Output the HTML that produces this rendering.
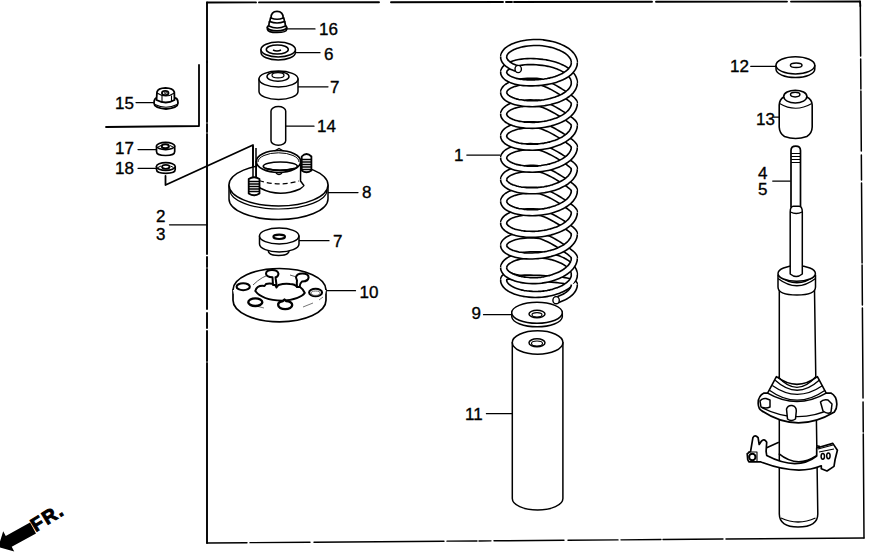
<!DOCTYPE html>
<html><head><meta charset="utf-8"><style>
html,body{margin:0;padding:0;background:#fff;}
svg{display:block;}
text{font-family:"Liberation Sans",sans-serif;fill:#000;}
</style></head><body>
<svg width="870" height="554" viewBox="0 0 870 554">
<g fill="none" stroke="#000" stroke-width="1.8" stroke-linecap="round" stroke-linejoin="round">
<!-- frame -->
<path d="M207,62 L207,2.5 M860,1.5 L860.3,6" stroke-width="1.9"/>
<path d="M207,2.5 L860,1.5" stroke-width="1.9" stroke-dasharray="49 3 120 12 112 3 6 2 138 4 131 4 200"/>
<path d="M860.3,6 L864,538" stroke-width="1.5" stroke-dasharray="50 3 30 2 60 4 25 3 80 2 40 3 90 4 30 2 200"/>
<path d="M207,62 L207,543" stroke-width="1.9" stroke-dasharray="60 2 8 2 120 3 10 2 40 4 15 3 30 2 250"/>
<path d="M207,543 L864,538" stroke-width="1.4" stroke-dasharray="40 3 60 4 130 3 30 2 12 3 70 4 50 3 40 2 60 3 200"/>
<!-- inner bracket -->
<path d="M199,65 L199,126 L106,127"/>
<!-- 17/18 bracket -->
<path d="M165.5,176 L165.5,185 L253,145 L253,177"/>
<!-- leaders -->
<path stroke-width="1.25" d="M136,102.5 L155,102.5 M138,149.5 L157,149.5 M138,168.3 L157,168.3 M169.5,224.8 L207,224.8
 M287,28.9 L315,28.9 M296,52.7 L320,52.7 M298,86.8 L328,86.8 M286,126.2 L314,126.2 M328,192.5 L358,192.5
 M299,240.7 L329,240.7 M327,290.7 L355.5,290.7
 M466.8,155.1 L500,155.1 M483.5,314.7 L512,314.7 M486.4,413.7 L511.7,413.7
 M750.7,66.3 L776,66.3 M774,117.2 L778.7,117.2 M772.7,181 L790.3,181"/>
</g>
<g font-size="17" stroke="#000" stroke-width="0.35">
<text x="115" y="108.5">15</text>
<text x="115" y="154">17</text>
<text x="115" y="173.5">18</text>
<text x="156" y="221.5">2</text>
<text x="156" y="240">3</text>
<text x="319" y="35">16</text>
<text x="324" y="59.6">6</text>
<text x="330" y="93.3">7</text>
<text x="317" y="131.5">14</text>
<text x="362" y="198.3">8</text>
<text x="333" y="247">7</text>
<text x="359.5" y="297.5">10</text>
<text x="454" y="160.5">1</text>
<text x="471.5" y="319.3">9</text>
<text x="465" y="420">11</text>
<text x="730" y="72">12</text>
<text x="756" y="124.5">13</text>
<text x="758" y="179">4</text>
<text x="758" y="195.3">5</text>
</g>

<g fill="#fff" stroke="#000" stroke-width="1.5" stroke-linejoin="round">
<!-- 15 nut -->
<path d="M154,103 Q154,97 158.5,98 L173,98 Q178,97 178,103 Q178,108 166,109 Q154,108 154,103Z" stroke-width="1.8"/>
<path d="M155,104.5 Q166,110 177,104.5" fill="none" stroke-width="1.2"/>
<path d="M156.5,100 L157,92 Q158,88 165.5,87.8 Q173,88 174.3,92 L174.5,100 Q166,105 156.5,100Z" stroke-width="1.8"/>
<path d="M162,96 L162,102.5 M171.5,95.5 L171.5,102" fill="none" stroke-width="1.1"/>
<path d="M157,93 Q166,99 174.3,93" fill="none" stroke-width="1.1"/>
<ellipse cx="165.2" cy="93" rx="3.3" ry="2.2" stroke-width="1.8"/>
<ellipse cx="165.4" cy="92.8" rx="1.2" ry="0.7" fill="none" stroke-width="0.9"/>

<!-- 17 -->
<path d="M156.5,146 L156.5,151.5 Q156.5,155.5 165.6,155.5 Q174.7,155.5 174.7,151.5 L174.7,146Z" stroke-width="1.7"/>
<ellipse cx="165.6" cy="146" rx="9.1" ry="3.6" stroke-width="1.6"/>
<ellipse cx="165.3" cy="146.2" rx="3.6" ry="2" stroke-width="2"/>
<path d="M158,147 L161,145.5 M170,145.5 L173,147" fill="none" stroke-width="1"/>
<!-- 18 -->
<path d="M156.5,166.5 L156.5,169.5 Q156.5,173.3 165.8,173.3 Q175.2,173.3 175.2,169.5 L175.2,166.5Z" stroke-width="1.7"/>
<ellipse cx="165.8" cy="166.5" rx="9.4" ry="3.9" stroke-width="1.6"/>
<ellipse cx="165.8" cy="166.8" rx="3.8" ry="2" stroke-width="1.8"/>
<path d="M158,167.5 L161,166 M170.5,166 L173.5,167.5" fill="none" stroke-width="1"/>

<!-- 16 -->
<path d="M267.3,27.5 L267.5,29.5 Q268,32.5 277,32.5 Q286.3,32.5 286.7,29.5 L286.7,27.5Z" stroke-width="1.7"/>
<ellipse cx="277" cy="27.3" rx="9.6" ry="3.6" stroke-width="1.7"/>
<path d="M268.8,26 L269.3,21.5 L284.8,21.5 L285.5,26 Q277,30 268.8,26Z" stroke-width="1.7"/>
<path d="M269.8,21.5 L270.5,17.8 L283.8,17.8 L284.5,21.5 Q277,24.5 269.8,21.5Z" stroke-width="1.7"/>
<path d="M271,18 Q271,11.3 277,11.3 Q283.2,11.3 283.2,18 Q277,20.5 271,18Z" stroke-width="1.7"/>

<!-- 6 washer -->
<path d="M261,49.5 L261,52.5 A17.2,7.5 0 0 0 295.4,52.5 L295.4,49.5Z"/>
<ellipse cx="278.2" cy="49.5" rx="17.2" ry="7.5"/>
<ellipse cx="277.3" cy="49.5" rx="11" ry="4.6" fill="none"/>
<path d="M273,50 Q277,52 281,50" fill="none"/>

<!-- 7 upper -->
<path d="M259,79 L259,91.5 A19.5,8 0 0 0 298,91.5 L298,79Z"/>
<ellipse cx="278.5" cy="79" rx="19.5" ry="8"/>
<ellipse cx="278" cy="76.5" rx="11" ry="4.8"/>
<ellipse cx="278" cy="75.3" rx="6" ry="2.6" fill="none" stroke-width="1.2"/>

<!-- 14 -->
<rect x="271" y="106.5" width="14.7" height="38.7" rx="7.3" ry="4.5"/>

<!-- 8 base -->
<path d="M229,185 L229,199 A49.5,20.5 0 0 0 328,199 L328,185Z"/>
<ellipse cx="278.5" cy="185" rx="49.5" ry="21"/>
<path d="M230,190 A48.5,19 0 0 0 327,190" fill="none" stroke-width="1.2"/>
<!-- hub -->
<path d="M256.2,161.5 L256.2,181 Q257,185 260,188 Q279,198 300,189 Q304,186 303.9,185.5 L300.5,181 L300.7,161.5Z"/>
<ellipse cx="278.5" cy="161.5" rx="22.2" ry="11" stroke-width="1.7"/>
<path d="M258,162 A20.5,9.2 0 0 1 299,162" fill="none" stroke-width="1"/>
<ellipse cx="280.3" cy="166.2" rx="17" ry="4.2" stroke-width="1.7"/>
<path d="M266,168.5 Q280,172 294,168.5" fill="none" stroke-width="1.3"/>
<path d="M276,173 Q279,176 282,173" fill="none" stroke-width="1.3"/>
<path d="M259,180.5 Q279,187 299,181" fill="none" stroke-dasharray="5 3" stroke-width="1.3"/>
<path d="M274.5,151 L279,148.5 L283.5,151" fill="none" stroke-width="1.4"/>
<!-- studs -->
<path d="M253,146 L253,177 M256,148 L256,177" fill="none" stroke-width="1.5"/>
<path d="M248.7,179 L248.7,193.5 Q254,197 259.5,193.5 L259.5,179 Q254,175.5 248.7,179Z" stroke-width="1.8"/>
<path d="M249,181.5 L259,181.5 M249,184 L259,184 M249,186.5 L259,186.5 M249,189 L259,189 M249,191.5 L259,191.5" stroke-width="1.3" fill="none"/>
<path d="M301.7,156.5 L301.7,170.5 Q306.5,174 311.4,170.5 L311.4,156.5 Q306.5,151.5 301.7,156.5Z" stroke-width="1.8"/>
<path d="M302,159.5 L311,159.5 M302,162 L311,162 M302,164.5 L311,164.5 M302,167 L311,167 M302,169.5 L311,169.5" stroke-width="1.3" fill="none"/>

<!-- 7 lower -->
<path d="M268.2,248 L268.5,252 A10.3,4.2 0 0 0 288.8,252 L289,248Z"/>
<path d="M259.5,236 L259.5,244 A19.7,8 0 0 0 299,244 L299,236Z"/>
<ellipse cx="279.2" cy="236" rx="19.7" ry="8"/>
<ellipse cx="279.2" cy="236.8" rx="5.8" ry="2.2" fill="none" stroke-width="2.1"/>

<!-- 10 -->
<path d="M233,290 L233,300.3 A46.5,21.5 0 0 0 326,300.3 L326,290Z" stroke-width="1.7"/>
<ellipse cx="279.5" cy="290" rx="46.5" ry="21.5" stroke="none"/>
<path d="M233,290 A46.5,21.5 0 0 1 326,290" fill="none" stroke-width="1.7"/>
<path d="M256,306 L264,308 M303,307 L313,303 M319,300 L323,297" fill="none" stroke-width="0.9" stroke="#666"/>
<path d="M253,285 Q262,276 272,274 M290,275 Q300,277 306,282" fill="none" stroke-width="0.9" stroke="#444"/>
<path d="M255.3,291 Q257,285 264.5,286 L266,284 Q270,283 275,284.5 L276.5,287.5 L278.5,285 Q285,283 290,284 Q295,284 297,287 L299.5,286.5 Q303,289 304.8,293 Q300,299.5 282,300.8 Q262,300 255.3,291Z" stroke-width="2"/>
<ellipse cx="243.2" cy="286.7" rx="6.6" ry="3.5" stroke-width="2.1"/>
<path d="M266,273.8 Q266,270 272,270 Q278,270 278.5,273.8 Q278,277 275.5,277.2 L276.5,285 L273,285 L272.5,277.2 Q266.5,277 266,273.8Z" stroke-width="2"/>
<path d="M296,277.5 Q296.5,273.5 302.4,273.5 Q308.6,273.5 308.6,277.5 Q308,281.5 302,281.5 Q300,283 299.5,287 L297,287 Q296.5,283 297,280.5Z" stroke-width="2"/>
<ellipse cx="315.6" cy="292.5" rx="6.5" ry="3.7" stroke-width="2"/>
<ellipse cx="315.6" cy="293.2" rx="4.5" ry="2.2" fill="none" stroke-width="1" stroke="#666"/>
<ellipse cx="255.3" cy="302.2" rx="7" ry="3.8" stroke-width="2.4"/>
<path d="M278.2,305.1 A7,4 0 0 0 292.2,305.1 A7,4 0 0 0 286,301 L284.5,299.5 L283,301 A7,4 0 0 0 278.2,305.1Z" stroke-width="2.4"/>

<!-- 9 washer -->
<path d="M511.8,313 L511.8,317 A25.3,10.5 0 0 0 562.3,317 L562.3,313Z"/>
<ellipse cx="537" cy="312.8" rx="25.3" ry="10.5"/>
<ellipse cx="537" cy="314" rx="8" ry="3.8"/>
<ellipse cx="537" cy="314.8" rx="5" ry="2.2" fill="none" stroke-width="1.1"/>

<!-- 11 -->
<path d="M512.3,342.5 L512.3,498.5 A25.3,11.5 0 0 0 562.9,498.5 L562.9,342.5Z"/>
<ellipse cx="537.6" cy="342.5" rx="25.3" ry="11.7"/>
<ellipse cx="537" cy="342.8" rx="8" ry="4"/>
<ellipse cx="537" cy="343.5" rx="5.5" ry="2.5" fill="none" stroke-width="1.1"/>

<!-- 12 washer -->
<path d="M776,65.5 L776,69 A19.4,8.6 0 0 0 814.8,69 L814.8,65.5Z"/>
<ellipse cx="795.4" cy="65.3" rx="19.4" ry="8.6"/>
<ellipse cx="796.2" cy="65.3" rx="5.8" ry="2.3"/>

<!-- 13 bump stop -->
<path d="M783.7,97 Q779.5,99.5 779.2,105 L779.2,127 Q779.5,133.5 784.5,136.5 Q795.5,140.5 806.8,136.5 Q812,133.5 812.2,127 L812.2,105 Q812,99.5 806.8,97Z" stroke-width="1.6"/>
<path d="M779.6,103.5 Q795.5,113 811.8,103.5" fill="none" stroke-width="1.1"/>
<ellipse cx="795.3" cy="96.6" rx="11.6" ry="6.4" stroke-width="1.6"/>
<ellipse cx="795.2" cy="94.6" rx="4.7" ry="2.3" stroke-width="1.5"/>

<!-- rod -->
<path d="M791,207.5 L791,150.5 Q791,146.2 795.7,146.2 Q800.5,146.2 800.5,150.5 L800.5,207.5" stroke-width="1.7"/>
<path d="M791.2,153.5 L800.3,153.5 M791.2,156.5 L800.3,156.5 M791.2,159.5 L800.3,159.5 M791.2,162.5 L800.3,162.5" stroke-width="1.1" fill="none"/>
<!-- strut body -->
<path d="M779.3,290 L779.3,514 Q779.5,527 798,527 Q817.8,527 817.8,514 L814.5,290Z"/>
<path d="M781,518 Q798,526 815.5,518" fill="none" stroke-width="1.3"/>
<!-- cap -->
<path d="M778,275 L778,287 Q778,295 797,295 Q815.5,295 815.5,287 L815.5,275Z"/>
<path d="M778,275.5 Q797,290 815.5,275.5 M778,278.5 Q797,293 815.5,278.5" fill="none" stroke-width="1.4"/>
<ellipse cx="796.7" cy="273.5" rx="18.7" ry="7.8"/>
<path d="M790.2,212 L790.2,274 Q796.2,279 802.3,274 L802.3,212 Q802.3,206.5 799,206.3 L793.5,206.3 Q790.2,206.5 790.2,212Z"/>
<path d="M790.4,212 Q796.2,215 802.1,212" fill="none" stroke-width="1.3"/>
<!-- spring seat -->
<path d="M764.1,393.1 Q758,396 758.2,403.7 Q758.5,409 761.7,410.7 Q797,434.3 834.4,411.9 Q837,409 836.8,403.7 Q836.5,396 830.9,393.1Z" stroke-width="1.7"/>
<path d="M761.7,407.5 Q797,425.4 832.1,408.4" fill="none" stroke-width="1.3"/>
<path d="M776.4,376.7 L767.6,393.1 Q797,410 826.2,393.1 L817.4,376.7 Q797,392 776.4,376.7Z" stroke-width="1.6"/>
<path d="M778.1,376.7 Q797,397.9 815.7,376.7 M775.2,380.2 Q797,400.2 819.2,380.2 M772.3,385.5 Q797,403.1 822.7,385.5 M769.4,390.2 Q797,410.2 825.1,390.2" fill="none" stroke-width="1.3"/>
<path d="M760,401 Q762,398 766,398.5 L770,400 L770,407 Q766,409 761,407Z" stroke-width="1.5"/>
<path d="M786.5,409 Q788,405 792,405.5 Q796.5,406.5 796.3,411 L795.5,419 Q791,422 787.5,419Z" stroke-width="1.5"/>
<path d="M820.5,402 Q823,399 828,400 L832,404 L831,412 Q828,415 823,411Z" stroke-width="1.5"/>
<!-- bracket -->
<path d="M766.1,448 L778.8,442.2 M816.7,445.7 L820,446.5" fill="none" stroke-width="1.5"/>
<path d="M778.8,453.7 Q797,468.6 816.1,456" fill="none" stroke-width="1.5"/>
<path d="M747.7,459.5 L747.2,453.7 L750.6,451.4 L752.9,437.6 Q755,434 758.1,437.6 L759.2,444.5 L761.5,441.1 Q764,438 766.7,442.2 L766.1,451.4 L766.7,455.5 Q797,471.3 816.7,456 L816.7,448 L832.8,443.4 L837.4,450.3 L835.1,459.5 L834,466.4 L827,471 L821.3,468.7 L821.3,465.8 Q797.2,476 760.4,461.8 L748.9,461.8Z" stroke-width="1.7"/>
<path d="M748,452 L757,452 L757,461" fill="none" stroke-width="1.1"/>
<circle cx="752.3" cy="457" r="3.2" stroke-width="2"/>
<path d="M818,449 L833,445 M819,452 L834,449" fill="none" stroke-width="1.1"/>
<ellipse cx="822.8" cy="456.3" rx="1.7" ry="2.9" stroke-width="1.5"/>
<ellipse cx="828.4" cy="455.8" rx="1.7" ry="2.9" stroke-width="1.5"/>
</g>

<!-- FR arrow -->
<g transform="translate(-1.8,547.1) rotate(-28.7)">
<path d="M0,0 L12,-11.5 L12,-6.2 L39.7,-6.2 L39.7,6.2 L12,6.2 L12,11.5Z" fill="#000"/>
<text x="40" y="5" font-size="19" font-weight="bold" fill="#000" stroke="#000" stroke-width="1" letter-spacing="1.6" transform="rotate(-3 40 5)">FR.</text>
</g>
<g stroke-linecap="butt" stroke-linejoin="round"><path d="M503.7,56.7 L503.8,55.3 L504.3,54.0 L505.0,52.8 L506.0,51.5 L507.2,50.3 L508.7,49.2 L510.4,48.1 L512.3,47.1 L514.4,46.2 L516.8,45.3 L519.2,44.6 L521.9,43.9 L524.6,43.4 L527.5,43.0 L530.4,42.7 L533.5,42.5 L536.5,42.5 L539.6,42.5 L542.7,42.8 L545.7,43.3 L548.7,43.8 L551.7,44.4 L554.5,45.2 L557.2,46.1 L559.8,47.1 L562.2,48.2 L564.4,49.4 L566.5,50.6 L568.3,52.0 L569.9,53.4 L571.3,54.9 L572.4,56.4 L573.3,58.0 L573.9,59.6 L574.3,61.2 L574.3,62.8" stroke="#000" stroke-width="7.6" fill="none"/><path d="M504.1,59.3 L503.7,58.0 L503.7,56.7 L503.8,55.3 L504.3,54.0 L505.0,52.8 L506.0,51.5 L507.2,50.3 L508.7,49.2 L510.4,48.1 L512.3,47.1 L514.4,46.2 L516.8,45.3 L519.2,44.6 L521.9,43.9 L524.6,43.4 L527.5,43.0 L530.4,42.7 L533.5,42.5 L536.5,42.5 L539.6,42.5 L542.7,42.8 L545.7,43.3 L548.7,43.8 L551.7,44.4 L554.5,45.2 L557.2,46.1 L559.8,47.1 L562.2,48.2 L564.4,49.4 L566.5,50.6 L568.3,52.0 L569.9,53.4 L571.3,54.9 L572.4,56.4 L573.3,58.0 L573.9,59.6 L574.3,61.2 L574.3,62.8 L574.2,64.5 L573.7,66.1" stroke="#fff" stroke-width="4.4" fill="none"/><path d="M503.7,72.0 L503.8,70.9 L504.3,69.9 L505.0,68.8 L506.0,67.8 L507.2,66.9 L508.7,65.9 L510.4,65.1 L512.3,64.3 L514.4,63.6 L516.8,63.0 L519.2,62.5 L521.9,62.1 L524.6,61.8 L527.5,61.6 L530.4,61.5 L533.5,61.6 L536.5,61.8 L539.6,62.1 L542.7,62.4 L545.7,62.8 L548.7,63.4 L551.7,64.1 L554.5,64.9 L557.2,65.8 L559.8,66.9 L562.2,68.0 L564.4,69.2 L566.5,70.5 L568.3,71.9 L569.9,73.3 L571.3,74.9 L572.4,76.4 L573.3,78.0 L573.9,79.7 L574.3,81.3 L574.3,83.0" stroke="#000" stroke-width="7.6" fill="none"/><path d="M504.1,74.2 L503.7,73.1 L503.7,72.0 L503.8,70.9 L504.3,69.9 L505.0,68.8 L506.0,67.8 L507.2,66.9 L508.7,65.9 L510.4,65.1 L512.3,64.3 L514.4,63.6 L516.8,63.0 L519.2,62.5 L521.9,62.1 L524.6,61.8 L527.5,61.6 L530.4,61.5 L533.5,61.6 L536.5,61.8 L539.6,62.1 L542.7,62.4 L545.7,62.8 L548.7,63.4 L551.7,64.1 L554.5,64.9 L557.2,65.8 L559.8,66.9 L562.2,68.0 L564.4,69.2 L566.5,70.5 L568.3,71.9 L569.9,73.3 L571.3,74.9 L572.4,76.4 L573.3,78.0 L573.9,79.7 L574.3,81.3 L574.3,83.0 L574.2,84.6 L573.7,86.3" stroke="#fff" stroke-width="4.4" fill="none"/><path d="M503.7,92.2 L503.8,91.1 L504.3,90.0 L505.0,88.9 L506.0,87.8 L507.2,86.8 L508.7,85.9 L510.4,85.0 L512.3,84.2 L514.4,83.5 L516.8,82.8 L519.2,82.3 L521.9,81.8 L524.6,81.5 L527.5,81.3 L530.4,81.2 L533.5,81.2 L536.5,81.3 L539.6,81.7 L542.7,82.6 L545.7,83.7 L548.7,85.1 L551.7,86.5 L554.5,88.0 L557.2,89.6 L559.8,91.1 L562.2,92.6 L564.4,94.1 L566.5,95.5 L568.3,96.8 L569.9,97.9 L571.3,99.0 L572.4,100.0 L573.3,101.0 L573.9,101.8 L574.3,102.6 L574.3,103.6" stroke="#000" stroke-width="7.6" fill="none"/><path d="M504.1,94.4 L503.7,93.3 L503.7,92.2 L503.8,91.1 L504.3,90.0 L505.0,88.9 L506.0,87.8 L507.2,86.8 L508.7,85.9 L510.4,85.0 L512.3,84.2 L514.4,83.5 L516.8,82.8 L519.2,82.3 L521.9,81.8 L524.6,81.5 L527.5,81.3 L530.4,81.2 L533.5,81.2 L536.5,81.3 L539.6,81.7 L542.7,82.6 L545.7,83.7 L548.7,85.1 L551.7,86.5 L554.5,88.0 L557.2,89.6 L559.8,91.1 L562.2,92.6 L564.4,94.1 L566.5,95.5 L568.3,96.8 L569.9,97.9 L571.3,99.0 L572.4,100.0 L573.3,101.0 L573.9,101.8 L574.3,102.6 L574.3,103.6 L574.2,105.3 L573.7,107.0" stroke="#fff" stroke-width="4.4" fill="none"/><path d="M503.7,113.9 L503.8,112.8 L504.3,111.7 L505.0,110.6 L506.0,109.6 L507.2,108.6 L508.7,107.6 L510.4,106.7 L512.3,105.9 L514.4,105.2 L516.8,104.6 L519.2,104.0 L521.9,103.6 L524.6,103.3 L527.5,103.0 L530.4,102.9 L533.5,103.0 L536.5,103.1 L539.6,103.4 L542.7,104.3 L545.7,105.5 L548.7,106.8 L551.7,108.3 L554.5,109.8 L557.2,111.3 L559.8,112.9 L562.2,114.4 L564.4,115.9 L566.5,117.2 L568.3,118.5 L569.9,119.7 L571.3,120.8 L572.4,121.8 L573.3,122.7 L573.9,123.6 L574.3,124.4 L574.3,125.4" stroke="#000" stroke-width="7.6" fill="none"/><path d="M504.1,116.2 L503.7,115.0 L503.7,113.9 L503.8,112.8 L504.3,111.7 L505.0,110.6 L506.0,109.6 L507.2,108.6 L508.7,107.6 L510.4,106.7 L512.3,105.9 L514.4,105.2 L516.8,104.6 L519.2,104.0 L521.9,103.6 L524.6,103.3 L527.5,103.0 L530.4,102.9 L533.5,103.0 L536.5,103.1 L539.6,103.4 L542.7,104.3 L545.7,105.5 L548.7,106.8 L551.7,108.3 L554.5,109.8 L557.2,111.3 L559.8,112.9 L562.2,114.4 L564.4,115.9 L566.5,117.2 L568.3,118.5 L569.9,119.7 L571.3,120.8 L572.4,121.8 L573.3,122.7 L573.9,123.6 L574.3,124.4 L574.3,125.4 L574.2,127.1 L573.7,128.8" stroke="#fff" stroke-width="4.4" fill="none"/><path d="M503.7,135.8 L503.8,134.7 L504.3,133.6 L505.0,132.5 L506.0,131.4 L507.2,130.4 L508.7,129.5 L510.4,128.6 L512.3,127.8 L514.4,127.1 L516.8,126.4 L519.2,125.9 L521.9,125.5 L524.6,125.1 L527.5,124.9 L530.4,124.8 L533.5,124.9 L536.5,125.0 L539.6,125.3 L542.7,126.2 L545.7,127.4 L548.7,128.7 L551.7,130.2 L554.5,131.7 L557.2,133.3 L559.8,134.8 L562.2,136.3 L564.4,137.8 L566.5,139.2 L568.3,140.5 L569.9,141.6 L571.3,142.7 L572.4,143.7 L573.3,144.7 L573.9,145.5 L574.3,146.4 L574.3,147.3" stroke="#000" stroke-width="7.6" fill="none"/><path d="M504.1,138.0 L503.7,136.9 L503.7,135.8 L503.8,134.7 L504.3,133.6 L505.0,132.5 L506.0,131.4 L507.2,130.4 L508.7,129.5 L510.4,128.6 L512.3,127.8 L514.4,127.1 L516.8,126.4 L519.2,125.9 L521.9,125.5 L524.6,125.1 L527.5,124.9 L530.4,124.8 L533.5,124.9 L536.5,125.0 L539.6,125.3 L542.7,126.2 L545.7,127.4 L548.7,128.7 L551.7,130.2 L554.5,131.7 L557.2,133.3 L559.8,134.8 L562.2,136.3 L564.4,137.8 L566.5,139.2 L568.3,140.5 L569.9,141.6 L571.3,142.7 L572.4,143.7 L573.3,144.7 L573.9,145.5 L574.3,146.4 L574.3,147.3 L574.2,149.1 L573.7,150.8" stroke="#fff" stroke-width="4.4" fill="none"/><path d="M503.7,157.7 L503.8,156.6 L504.3,155.4 L505.0,154.4 L506.0,153.3 L507.2,152.3 L508.7,151.4 L510.4,150.5 L512.3,149.7 L514.4,148.9 L516.8,148.3 L519.2,147.7 L521.9,147.3 L524.6,147.0 L527.5,146.7 L530.4,146.6 L533.5,146.7 L536.5,146.8 L539.6,147.1 L542.7,148.0 L545.7,149.2 L548.7,150.5 L551.7,152.0 L554.5,153.5 L557.2,155.0 L559.8,156.6 L562.2,158.1 L564.4,159.5 L566.5,160.9 L568.3,162.2 L569.9,163.4 L571.3,164.5 L572.4,165.5 L573.3,166.4 L573.9,167.2 L574.3,168.1 L574.3,169.0" stroke="#000" stroke-width="7.6" fill="none"/><path d="M504.1,159.9 L503.7,158.8 L503.7,157.7 L503.8,156.6 L504.3,155.4 L505.0,154.4 L506.0,153.3 L507.2,152.3 L508.7,151.4 L510.4,150.5 L512.3,149.7 L514.4,148.9 L516.8,148.3 L519.2,147.7 L521.9,147.3 L524.6,147.0 L527.5,146.7 L530.4,146.6 L533.5,146.7 L536.5,146.8 L539.6,147.1 L542.7,148.0 L545.7,149.2 L548.7,150.5 L551.7,152.0 L554.5,153.5 L557.2,155.0 L559.8,156.6 L562.2,158.1 L564.4,159.5 L566.5,160.9 L568.3,162.2 L569.9,163.4 L571.3,164.5 L572.4,165.5 L573.3,166.4 L573.9,167.2 L574.3,168.1 L574.3,169.0 L574.2,170.8 L573.7,172.5" stroke="#fff" stroke-width="4.4" fill="none"/><path d="M503.7,179.4 L503.8,178.2 L504.3,177.1 L505.0,176.1 L506.0,175.0 L507.2,174.0 L508.7,173.1 L510.4,172.2 L512.3,171.4 L514.4,170.6 L516.8,170.0 L519.2,169.5 L521.9,169.0 L524.6,168.7 L527.5,168.5 L530.4,168.4 L533.5,168.4 L536.5,168.5 L539.6,168.9 L542.7,169.8 L545.7,170.9 L548.7,172.3 L551.7,173.7 L554.5,175.2 L557.2,176.8 L559.8,178.4 L562.2,179.9 L564.4,181.3 L566.5,182.7 L568.3,184.0 L569.9,185.2 L571.3,186.3 L572.4,187.3 L573.3,188.2 L573.9,189.1 L574.3,189.9 L574.3,190.9" stroke="#000" stroke-width="7.6" fill="none"/><path d="M504.1,181.6 L503.7,180.5 L503.7,179.4 L503.8,178.2 L504.3,177.1 L505.0,176.1 L506.0,175.0 L507.2,174.0 L508.7,173.1 L510.4,172.2 L512.3,171.4 L514.4,170.6 L516.8,170.0 L519.2,169.5 L521.9,169.0 L524.6,168.7 L527.5,168.5 L530.4,168.4 L533.5,168.4 L536.5,168.5 L539.6,168.9 L542.7,169.8 L545.7,170.9 L548.7,172.3 L551.7,173.7 L554.5,175.2 L557.2,176.8 L559.8,178.4 L562.2,179.9 L564.4,181.3 L566.5,182.7 L568.3,184.0 L569.9,185.2 L571.3,186.3 L572.4,187.3 L573.3,188.2 L573.9,189.1 L574.3,189.9 L574.3,190.9 L574.2,192.6 L573.7,194.3" stroke="#fff" stroke-width="4.4" fill="none"/><path d="M503.7,201.2 L503.8,200.1 L504.3,199.0 L505.0,197.9 L506.0,196.8 L507.2,195.8 L508.7,194.9 L510.4,194.0 L512.3,193.2 L514.4,192.5 L516.8,191.8 L519.2,191.3 L521.9,190.8 L524.6,190.5 L527.5,190.3 L530.4,190.2 L533.5,190.2 L536.5,190.3 L539.6,190.7 L542.7,191.6 L545.7,192.7 L548.7,194.1 L551.7,195.5 L554.5,197.0 L557.2,198.6 L559.8,200.1 L562.2,201.6 L564.4,203.1 L566.5,204.5 L568.3,205.8 L569.9,206.9 L571.3,208.0 L572.4,209.0 L573.3,210.0 L573.9,210.8 L574.3,211.6 L574.3,212.6" stroke="#000" stroke-width="7.6" fill="none"/><path d="M504.1,203.4 L503.7,202.3 L503.7,201.2 L503.8,200.1 L504.3,199.0 L505.0,197.9 L506.0,196.8 L507.2,195.8 L508.7,194.9 L510.4,194.0 L512.3,193.2 L514.4,192.5 L516.8,191.8 L519.2,191.3 L521.9,190.8 L524.6,190.5 L527.5,190.3 L530.4,190.2 L533.5,190.2 L536.5,190.3 L539.6,190.7 L542.7,191.6 L545.7,192.7 L548.7,194.1 L551.7,195.5 L554.5,197.0 L557.2,198.6 L559.8,200.1 L562.2,201.6 L564.4,203.1 L566.5,204.5 L568.3,205.8 L569.9,206.9 L571.3,208.0 L572.4,209.0 L573.3,210.0 L573.9,210.8 L574.3,211.6 L574.3,212.6 L574.2,214.3 L573.7,216.0" stroke="#fff" stroke-width="4.4" fill="none"/><path d="M503.7,222.9 L503.8,221.7 L504.3,220.6 L505.0,219.5 L506.0,218.5 L507.2,217.5 L508.7,216.5 L510.4,215.6 L512.3,214.8 L514.4,214.1 L516.8,213.5 L519.2,212.9 L521.9,212.5 L524.6,212.1 L527.5,211.9 L530.4,211.8 L533.5,211.8 L536.5,212.0 L539.6,212.3 L542.7,213.2 L545.7,214.3 L548.7,215.6 L551.7,217.1 L554.5,218.6 L557.2,220.2 L559.8,221.7 L562.2,223.2 L564.4,224.7 L566.5,226.0 L568.3,227.3 L569.9,228.5 L571.3,229.6 L572.4,230.6 L573.3,231.5 L573.9,232.4 L574.3,233.2 L574.3,234.2" stroke="#000" stroke-width="7.6" fill="none"/><path d="M504.1,225.1 L503.7,224.0 L503.7,222.9 L503.8,221.7 L504.3,220.6 L505.0,219.5 L506.0,218.5 L507.2,217.5 L508.7,216.5 L510.4,215.6 L512.3,214.8 L514.4,214.1 L516.8,213.5 L519.2,212.9 L521.9,212.5 L524.6,212.1 L527.5,211.9 L530.4,211.8 L533.5,211.8 L536.5,212.0 L539.6,212.3 L542.7,213.2 L545.7,214.3 L548.7,215.6 L551.7,217.1 L554.5,218.6 L557.2,220.2 L559.8,221.7 L562.2,223.2 L564.4,224.7 L566.5,226.0 L568.3,227.3 L569.9,228.5 L571.3,229.6 L572.4,230.6 L573.3,231.5 L573.9,232.4 L574.3,233.2 L574.3,234.2 L574.2,235.9 L573.7,237.6" stroke="#fff" stroke-width="4.4" fill="none"/><path d="M503.7,245.2 L503.8,244.2 L504.3,243.1 L505.0,242.1 L506.0,241.1 L507.2,240.1 L508.7,239.2 L510.4,238.4 L512.3,237.6 L514.4,236.9 L516.8,236.3 L519.2,235.8 L521.9,235.4 L524.6,235.1 L527.5,235.0 L530.4,234.9 L533.5,235.0 L536.5,235.2 L539.6,235.5 L542.7,236.5 L545.7,237.7 L548.7,239.1 L551.7,240.5 L554.5,242.1 L557.2,243.7 L559.8,245.3 L562.2,246.9 L564.4,248.4 L566.5,249.8 L568.3,251.1 L569.9,252.4 L571.3,253.5 L572.4,254.5 L573.3,255.5 L573.9,256.4 L574.3,257.3 L574.3,258.3" stroke="#000" stroke-width="7.6" fill="none"/><path d="M504.1,247.4 L503.7,246.3 L503.7,245.2 L503.8,244.2 L504.3,243.1 L505.0,242.1 L506.0,241.1 L507.2,240.1 L508.7,239.2 L510.4,238.4 L512.3,237.6 L514.4,236.9 L516.8,236.3 L519.2,235.8 L521.9,235.4 L524.6,235.1 L527.5,235.0 L530.4,234.9 L533.5,235.0 L536.5,235.2 L539.6,235.5 L542.7,236.5 L545.7,237.7 L548.7,239.1 L551.7,240.5 L554.5,242.1 L557.2,243.7 L559.8,245.3 L562.2,246.9 L564.4,248.4 L566.5,249.8 L568.3,251.1 L569.9,252.4 L571.3,253.5 L572.4,254.5 L573.3,255.5 L573.9,256.4 L574.3,257.3 L574.3,258.3 L574.2,260.1 L573.7,261.8" stroke="#fff" stroke-width="4.4" fill="none"/><path d="M503.7,267.4 L503.8,266.2 L504.3,265.0 L505.0,263.8 L506.0,262.6 L507.2,261.5 L508.7,260.5 L510.4,259.5 L512.3,258.6 L514.4,257.7 L516.8,257.0 L519.2,256.3 L521.9,255.8 L524.6,255.3 L527.5,255.0 L530.4,254.8 L533.5,254.7 L536.5,254.7 L539.6,254.9 L542.7,255.2 L545.7,255.6 L548.7,256.1 L551.7,256.7 L554.5,257.5 L557.2,258.4 L559.8,259.4 L562.2,260.4 L564.4,261.6 L566.5,262.9 L568.3,264.2 L569.9,265.6 L571.3,267.1 L572.4,268.6 L573.3,270.1 L573.9,271.7 L574.3,273.3 L574.3,274.9" stroke="#000" stroke-width="7.6" fill="none"/><path d="M504.1,269.9 L503.7,268.7 L503.7,267.4 L503.8,266.2 L504.3,265.0 L505.0,263.8 L506.0,262.6 L507.2,261.5 L508.7,260.5 L510.4,259.5 L512.3,258.6 L514.4,257.7 L516.8,257.0 L519.2,256.3 L521.9,255.8 L524.6,255.3 L527.5,255.0 L530.4,254.8 L533.5,254.7 L536.5,254.7 L539.6,254.9 L542.7,255.2 L545.7,255.6 L548.7,256.1 L551.7,256.7 L554.5,257.5 L557.2,258.4 L559.8,259.4 L562.2,260.4 L564.4,261.6 L566.5,262.9 L568.3,264.2 L569.9,265.6 L571.3,267.1 L572.4,268.6 L573.3,270.1 L573.9,271.7 L574.3,273.3 L574.3,274.9 L574.2,276.6 L573.7,278.2" stroke="#fff" stroke-width="4.4" fill="none"/><path d="M503.7,280.0 L503.8,278.8 L504.3,277.8 L505.0,277.1 L506.0,276.6 L507.2,276.3 L508.7,276.2 L510.4,276.3 L512.3,276.6 L514.4,277.1 L516.8,277.8 L519.2,278.2 L521.9,278.2 L524.6,278.1 L527.5,278.1 L530.4,278.1 L533.5,278.2 L536.5,278.3 L539.6,278.4 L542.7,278.5 L545.7,278.7 L548.7,278.9 L551.7,279.1 L554.5,279.4 L557.2,279.6 L559.8,280.0 L562.2,280.3 L564.4,280.6 L566.5,281.0 L568.3,281.4 L569.9,281.8 L571.3,282.3 L572.4,282.7 L573.3,283.2 L573.9,283.6 L574.3,284.1 L574.3,284.8" stroke="#000" stroke-width="7.6" fill="none"/><path d="M504.1,282.6 L503.7,281.3 L503.7,280.0 L503.8,278.8 L504.3,277.8 L505.0,277.1 L506.0,276.6 L507.2,276.3 L508.7,276.2 L510.4,276.3 L512.3,276.6 L514.4,277.1 L516.8,277.8 L519.2,278.2 L521.9,278.2 L524.6,278.1 L527.5,278.1 L530.4,278.1 L533.5,278.2 L536.5,278.3 L539.6,278.4 L542.7,278.5 L545.7,278.7 L548.7,278.9 L551.7,279.1 L554.5,279.4 L557.2,279.6 L559.8,280.0 L562.2,280.3 L564.4,280.6 L566.5,281.0 L568.3,281.4 L569.9,281.8 L571.3,282.3 L572.4,282.7 L573.3,283.2 L573.9,283.6 L574.3,284.1 L574.3,284.8 L574.2,286.3 L573.7,287.8" stroke="#fff" stroke-width="4.4" fill="none"/><path d="M518.2,69.0 L515.8,68.2 L513.6,67.3 L511.5,66.4 L509.7,65.3 L508.1,64.2 L506.7,63.1 L505.6,61.8 L504.7,60.6 L504.1,59.3 L503.7,58.0 L503.7,56.7" stroke="#000" stroke-width="7.6" fill="none"/><path d="M518.2,69.0 L515.8,68.2 L513.6,67.3 L511.5,66.4 L509.7,65.3 L508.1,64.2 L506.7,63.1 L505.6,61.8 L504.7,60.6 L504.1,59.3 L503.7,58.0 L503.7,56.7 L503.8,55.3 L504.3,54.0" stroke="#fff" stroke-width="4.4" fill="none"/><path d="M574.3,62.8 L574.2,64.5 L573.7,66.1 L573.0,67.7 L572.0,69.2 L570.8,70.7 L569.3,72.2 L567.6,73.6 L565.7,74.9 L563.6,76.1 L561.2,77.3 L558.8,78.3 L556.1,79.3 L553.4,80.1 L550.5,80.8 L547.6,81.4 L544.5,81.9 L541.5,82.3 L538.4,82.6 L535.3,82.8 L532.3,82.9 L529.3,82.9 L526.3,82.8 L523.5,82.6 L520.8,82.3 L518.2,81.8 L515.8,81.3 L513.6,80.6 L511.5,79.9 L509.7,79.1 L508.1,78.2 L506.7,77.3 L505.6,76.3 L504.7,75.3 L504.1,74.2 L503.7,73.1 L503.7,72.0" stroke="#000" stroke-width="7.6" fill="none"/><path d="M573.9,59.6 L574.3,61.2 L574.3,62.8 L574.2,64.5 L573.7,66.1 L573.0,67.7 L572.0,69.2 L570.8,70.7 L569.3,72.2 L567.6,73.6 L565.7,74.9 L563.6,76.1 L561.2,77.3 L558.8,78.3 L556.1,79.3 L553.4,80.1 L550.5,80.8 L547.6,81.4 L544.5,81.9 L541.5,82.3 L538.4,82.6 L535.3,82.8 L532.3,82.9 L529.3,82.9 L526.3,82.8 L523.5,82.6 L520.8,82.3 L518.2,81.8 L515.8,81.3 L513.6,80.6 L511.5,79.9 L509.7,79.1 L508.1,78.2 L506.7,77.3 L505.6,76.3 L504.7,75.3 L504.1,74.2 L503.7,73.1 L503.7,72.0 L503.8,70.9 L504.3,69.9" stroke="#fff" stroke-width="4.4" fill="none"/><path d="M574.3,83.0 L574.2,84.6 L573.7,86.3 L573.0,87.9 L572.0,89.5 L570.8,91.1 L569.3,92.5 L567.6,94.0 L565.7,95.3 L563.6,96.6 L561.2,97.8 L558.8,98.9 L556.1,99.9 L553.4,100.7 L550.5,101.5 L547.6,102.1 L544.5,102.7 L541.5,103.1 L538.4,103.4 L535.3,103.6 L532.3,103.7 L529.3,103.6 L526.3,103.5 L523.5,103.2 L520.8,102.8 L518.2,102.4 L515.8,101.8 L513.6,101.1 L511.5,100.3 L509.7,99.5 L508.1,98.6 L506.7,97.6 L505.6,96.6 L504.7,95.5 L504.1,94.4 L503.7,93.3 L503.7,92.2" stroke="#000" stroke-width="7.6" fill="none"/><path d="M573.9,79.7 L574.3,81.3 L574.3,83.0 L574.2,84.6 L573.7,86.3 L573.0,87.9 L572.0,89.5 L570.8,91.1 L569.3,92.5 L567.6,94.0 L565.7,95.3 L563.6,96.6 L561.2,97.8 L558.8,98.9 L556.1,99.9 L553.4,100.7 L550.5,101.5 L547.6,102.1 L544.5,102.7 L541.5,103.1 L538.4,103.4 L535.3,103.6 L532.3,103.7 L529.3,103.6 L526.3,103.5 L523.5,103.2 L520.8,102.8 L518.2,102.4 L515.8,101.8 L513.6,101.1 L511.5,100.3 L509.7,99.5 L508.1,98.6 L506.7,97.6 L505.6,96.6 L504.7,95.5 L504.1,94.4 L503.7,93.3 L503.7,92.2 L503.8,91.1 L504.3,90.0" stroke="#fff" stroke-width="4.4" fill="none"/><path d="M574.3,103.6 L574.2,105.3 L573.7,107.0 L573.0,108.7 L572.0,110.4 L570.8,112.0 L569.3,113.5 L567.6,115.0 L565.7,116.4 L563.6,117.8 L561.2,119.0 L558.8,120.2 L556.1,121.2 L553.4,122.1 L550.5,123.0 L547.6,123.7 L544.5,124.3 L541.5,124.7 L538.4,125.1 L535.3,125.3 L532.3,125.4 L529.3,125.3 L526.3,125.2 L523.5,124.9 L520.8,124.5 L518.2,124.1 L515.8,123.5 L513.6,122.8 L511.5,122.0 L509.7,121.2 L508.1,120.3 L506.7,119.3 L505.6,118.3 L504.7,117.2 L504.1,116.2 L503.7,115.0 L503.7,113.9" stroke="#000" stroke-width="7.6" fill="none"/><path d="M573.9,101.8 L574.3,102.6 L574.3,103.6 L574.2,105.3 L573.7,107.0 L573.0,108.7 L572.0,110.4 L570.8,112.0 L569.3,113.5 L567.6,115.0 L565.7,116.4 L563.6,117.8 L561.2,119.0 L558.8,120.2 L556.1,121.2 L553.4,122.1 L550.5,123.0 L547.6,123.7 L544.5,124.3 L541.5,124.7 L538.4,125.1 L535.3,125.3 L532.3,125.4 L529.3,125.3 L526.3,125.2 L523.5,124.9 L520.8,124.5 L518.2,124.1 L515.8,123.5 L513.6,122.8 L511.5,122.0 L509.7,121.2 L508.1,120.3 L506.7,119.3 L505.6,118.3 L504.7,117.2 L504.1,116.2 L503.7,115.0 L503.7,113.9 L503.8,112.8 L504.3,111.7" stroke="#fff" stroke-width="4.4" fill="none"/><path d="M574.3,125.4 L574.2,127.1 L573.7,128.8 L573.0,130.5 L572.0,132.2 L570.8,133.8 L569.3,135.3 L567.6,136.8 L565.7,138.2 L563.6,139.6 L561.2,140.8 L558.8,142.0 L556.1,143.0 L553.4,143.9 L550.5,144.8 L547.6,145.5 L544.5,146.1 L541.5,146.5 L538.4,146.9 L535.3,147.1 L532.3,147.2 L529.3,147.1 L526.3,147.0 L523.5,146.7 L520.8,146.4 L518.2,145.9 L515.8,145.3 L513.6,144.6 L511.5,143.9 L509.7,143.0 L508.1,142.1 L506.7,141.2 L505.6,140.1 L504.7,139.1 L504.1,138.0 L503.7,136.9 L503.7,135.8" stroke="#000" stroke-width="7.6" fill="none"/><path d="M573.9,123.6 L574.3,124.4 L574.3,125.4 L574.2,127.1 L573.7,128.8 L573.0,130.5 L572.0,132.2 L570.8,133.8 L569.3,135.3 L567.6,136.8 L565.7,138.2 L563.6,139.6 L561.2,140.8 L558.8,142.0 L556.1,143.0 L553.4,143.9 L550.5,144.8 L547.6,145.5 L544.5,146.1 L541.5,146.5 L538.4,146.9 L535.3,147.1 L532.3,147.2 L529.3,147.1 L526.3,147.0 L523.5,146.7 L520.8,146.4 L518.2,145.9 L515.8,145.3 L513.6,144.6 L511.5,143.9 L509.7,143.0 L508.1,142.1 L506.7,141.2 L505.6,140.1 L504.7,139.1 L504.1,138.0 L503.7,136.9 L503.7,135.8 L503.8,134.7 L504.3,133.6" stroke="#fff" stroke-width="4.4" fill="none"/><path d="M574.3,147.3 L574.2,149.1 L573.7,150.8 L573.0,152.5 L572.0,154.1 L570.8,155.7 L569.3,157.3 L567.6,158.8 L565.7,160.2 L563.6,161.5 L561.2,162.8 L558.8,163.9 L556.1,165.0 L553.4,165.9 L550.5,166.8 L547.6,167.5 L544.5,168.0 L541.5,168.5 L538.4,168.9 L535.3,169.1 L532.3,169.2 L529.3,169.1 L526.3,169.0 L523.5,168.7 L520.8,168.3 L518.2,167.8 L515.8,167.3 L513.6,166.6 L511.5,165.8 L509.7,165.0 L508.1,164.1 L506.7,163.1 L505.6,162.1 L504.7,161.0 L504.1,159.9 L503.7,158.8 L503.7,157.7" stroke="#000" stroke-width="7.6" fill="none"/><path d="M573.9,145.5 L574.3,146.4 L574.3,147.3 L574.2,149.1 L573.7,150.8 L573.0,152.5 L572.0,154.1 L570.8,155.7 L569.3,157.3 L567.6,158.8 L565.7,160.2 L563.6,161.5 L561.2,162.8 L558.8,163.9 L556.1,165.0 L553.4,165.9 L550.5,166.8 L547.6,167.5 L544.5,168.0 L541.5,168.5 L538.4,168.9 L535.3,169.1 L532.3,169.2 L529.3,169.1 L526.3,169.0 L523.5,168.7 L520.8,168.3 L518.2,167.8 L515.8,167.3 L513.6,166.6 L511.5,165.8 L509.7,165.0 L508.1,164.1 L506.7,163.1 L505.6,162.1 L504.7,161.0 L504.1,159.9 L503.7,158.8 L503.7,157.7 L503.8,156.6 L504.3,155.4" stroke="#fff" stroke-width="4.4" fill="none"/><path d="M574.3,169.0 L574.2,170.8 L573.7,172.5 L573.0,174.2 L572.0,175.8 L570.8,177.4 L569.3,179.0 L567.6,180.4 L565.7,181.9 L563.6,183.2 L561.2,184.4 L558.8,185.6 L556.1,186.6 L553.4,187.6 L550.5,188.4 L547.6,189.1 L544.5,189.7 L541.5,190.1 L538.4,190.5 L535.3,190.7 L532.3,190.8 L529.3,190.7 L526.3,190.6 L523.5,190.3 L520.8,190.0 L518.2,189.5 L515.8,188.9 L513.6,188.2 L511.5,187.5 L509.7,186.6 L508.1,185.7 L506.7,184.7 L505.6,183.7 L504.7,182.7 L504.1,181.6 L503.7,180.5 L503.7,179.4" stroke="#000" stroke-width="7.6" fill="none"/><path d="M573.9,167.2 L574.3,168.1 L574.3,169.0 L574.2,170.8 L573.7,172.5 L573.0,174.2 L572.0,175.8 L570.8,177.4 L569.3,179.0 L567.6,180.4 L565.7,181.9 L563.6,183.2 L561.2,184.4 L558.8,185.6 L556.1,186.6 L553.4,187.6 L550.5,188.4 L547.6,189.1 L544.5,189.7 L541.5,190.1 L538.4,190.5 L535.3,190.7 L532.3,190.8 L529.3,190.7 L526.3,190.6 L523.5,190.3 L520.8,190.0 L518.2,189.5 L515.8,188.9 L513.6,188.2 L511.5,187.5 L509.7,186.6 L508.1,185.7 L506.7,184.7 L505.6,183.7 L504.7,182.7 L504.1,181.6 L503.7,180.5 L503.7,179.4 L503.8,178.2 L504.3,177.1" stroke="#fff" stroke-width="4.4" fill="none"/><path d="M574.3,190.9 L574.2,192.6 L573.7,194.3 L573.0,196.0 L572.0,197.6 L570.8,199.3 L569.3,200.8 L567.6,202.3 L565.7,203.7 L563.6,205.0 L561.2,206.3 L558.8,207.4 L556.1,208.5 L553.4,209.4 L550.5,210.3 L547.6,211.0 L544.5,211.6 L541.5,212.0 L538.4,212.4 L535.3,212.6 L532.3,212.7 L529.3,212.6 L526.3,212.5 L523.5,212.2 L520.8,211.8 L518.2,211.4 L515.8,210.8 L513.6,210.1 L511.5,209.3 L509.7,208.5 L508.1,207.6 L506.7,206.6 L505.6,205.6 L504.7,204.5 L504.1,203.4 L503.7,202.3 L503.7,201.2" stroke="#000" stroke-width="7.6" fill="none"/><path d="M573.9,189.1 L574.3,189.9 L574.3,190.9 L574.2,192.6 L573.7,194.3 L573.0,196.0 L572.0,197.6 L570.8,199.3 L569.3,200.8 L567.6,202.3 L565.7,203.7 L563.6,205.0 L561.2,206.3 L558.8,207.4 L556.1,208.5 L553.4,209.4 L550.5,210.3 L547.6,211.0 L544.5,211.6 L541.5,212.0 L538.4,212.4 L535.3,212.6 L532.3,212.7 L529.3,212.6 L526.3,212.5 L523.5,212.2 L520.8,211.8 L518.2,211.4 L515.8,210.8 L513.6,210.1 L511.5,209.3 L509.7,208.5 L508.1,207.6 L506.7,206.6 L505.6,205.6 L504.7,204.5 L504.1,203.4 L503.7,202.3 L503.7,201.2 L503.8,200.1 L504.3,199.0" stroke="#fff" stroke-width="4.4" fill="none"/><path d="M574.3,212.6 L574.2,214.3 L573.7,216.0 L573.0,217.7 L572.0,219.4 L570.8,221.0 L569.3,222.5 L567.6,224.0 L565.7,225.4 L563.6,226.8 L561.2,228.0 L558.8,229.2 L556.1,230.2 L553.4,231.1 L550.5,232.0 L547.6,232.7 L544.5,233.3 L541.5,233.7 L538.4,234.1 L535.3,234.3 L532.3,234.4 L529.3,234.3 L526.3,234.2 L523.5,233.9 L520.8,233.5 L518.2,233.0 L515.8,232.5 L513.6,231.8 L511.5,231.0 L509.7,230.2 L508.1,229.2 L506.7,228.3 L505.6,227.2 L504.7,226.2 L504.1,225.1 L503.7,224.0 L503.7,222.9" stroke="#000" stroke-width="7.6" fill="none"/><path d="M573.9,210.8 L574.3,211.6 L574.3,212.6 L574.2,214.3 L573.7,216.0 L573.0,217.7 L572.0,219.4 L570.8,221.0 L569.3,222.5 L567.6,224.0 L565.7,225.4 L563.6,226.8 L561.2,228.0 L558.8,229.2 L556.1,230.2 L553.4,231.1 L550.5,232.0 L547.6,232.7 L544.5,233.3 L541.5,233.7 L538.4,234.1 L535.3,234.3 L532.3,234.4 L529.3,234.3 L526.3,234.2 L523.5,233.9 L520.8,233.5 L518.2,233.0 L515.8,232.5 L513.6,231.8 L511.5,231.0 L509.7,230.2 L508.1,229.2 L506.7,228.3 L505.6,227.2 L504.7,226.2 L504.1,225.1 L503.7,224.0 L503.7,222.9 L503.8,221.7 L504.3,220.6" stroke="#fff" stroke-width="4.4" fill="none"/><path d="M574.3,234.2 L574.2,235.9 L573.7,237.6 L573.0,239.3 L572.0,240.9 L570.8,242.5 L569.3,244.1 L567.6,245.6 L565.7,247.0 L563.6,248.3 L561.2,249.5 L558.8,250.7 L556.1,251.7 L553.4,252.7 L550.5,253.5 L547.6,254.2 L544.5,254.8 L541.5,255.2 L538.4,255.6 L535.3,255.8 L532.3,256.0 L529.3,256.0 L526.3,255.9 L523.5,255.7 L520.8,255.3 L518.2,254.9 L515.8,254.3 L513.6,253.7 L511.5,253.0 L509.7,252.2 L508.1,251.3 L506.7,250.4 L505.6,249.4 L504.7,248.4 L504.1,247.4 L503.7,246.3 L503.7,245.2" stroke="#000" stroke-width="7.6" fill="none"/><path d="M573.9,232.4 L574.3,233.2 L574.3,234.2 L574.2,235.9 L573.7,237.6 L573.0,239.3 L572.0,240.9 L570.8,242.5 L569.3,244.1 L567.6,245.6 L565.7,247.0 L563.6,248.3 L561.2,249.5 L558.8,250.7 L556.1,251.7 L553.4,252.7 L550.5,253.5 L547.6,254.2 L544.5,254.8 L541.5,255.2 L538.4,255.6 L535.3,255.8 L532.3,256.0 L529.3,256.0 L526.3,255.9 L523.5,255.7 L520.8,255.3 L518.2,254.9 L515.8,254.3 L513.6,253.7 L511.5,253.0 L509.7,252.2 L508.1,251.3 L506.7,250.4 L505.6,249.4 L504.7,248.4 L504.1,247.4 L503.7,246.3 L503.7,245.2 L503.8,244.2 L504.3,243.1" stroke="#fff" stroke-width="4.4" fill="none"/><path d="M574.3,258.3 L574.2,260.1 L573.7,261.8 L573.0,263.6 L572.0,265.2 L570.8,266.9 L569.3,268.5 L567.6,270.0 L565.7,271.5 L563.6,272.9 L561.2,274.2 L558.8,275.4 L556.1,276.4 L553.4,277.4 L550.5,278.3 L547.6,279.0 L544.5,279.7 L541.5,280.2 L538.4,280.5 L535.3,280.6 L532.3,280.6 L529.3,280.5 L526.3,280.2 L523.5,279.9 L520.8,279.4 L518.2,278.8 L515.8,278.1 L513.6,277.3 L511.5,276.4 L509.7,275.5 L508.1,274.5 L506.7,273.4 L505.6,272.2 L504.7,271.1 L504.1,269.9 L503.7,268.7 L503.7,267.4" stroke="#000" stroke-width="7.6" fill="none"/><path d="M573.9,256.4 L574.3,257.3 L574.3,258.3 L574.2,260.1 L573.7,261.8 L573.0,263.6 L572.0,265.2 L570.8,266.9 L569.3,268.5 L567.6,270.0 L565.7,271.5 L563.6,272.9 L561.2,274.2 L558.8,275.4 L556.1,276.4 L553.4,277.4 L550.5,278.3 L547.6,279.0 L544.5,279.7 L541.5,280.2 L538.4,280.5 L535.3,280.6 L532.3,280.6 L529.3,280.5 L526.3,280.2 L523.5,279.9 L520.8,279.4 L518.2,278.8 L515.8,278.1 L513.6,277.3 L511.5,276.4 L509.7,275.5 L508.1,274.5 L506.7,273.4 L505.6,272.2 L504.7,271.1 L504.1,269.9 L503.7,268.7 L503.7,267.4 L503.8,266.2 L504.3,265.0" stroke="#fff" stroke-width="4.4" fill="none"/><path d="M574.3,274.9 L574.2,276.6 L573.7,278.2 L573.0,279.7 L572.0,281.3 L570.8,282.8 L569.3,284.2 L567.6,285.6 L565.7,286.9 L563.6,288.1 L561.2,289.3 L558.8,290.3 L556.1,291.2 L553.4,292.1 L550.5,292.8 L547.6,293.4 L544.5,293.9 L541.5,294.2 L538.4,294.4 L535.3,294.5 L532.3,294.4 L529.3,294.1 L526.3,293.8 L523.5,293.4 L520.8,292.8 L518.2,292.1 L515.8,291.4 L513.6,290.5 L511.5,289.6 L509.7,288.5 L508.1,287.4 L506.7,286.3 L505.6,285.1 L504.7,283.8 L504.1,282.6 L503.7,281.3 L503.7,280.0" stroke="#000" stroke-width="7.6" fill="none"/><path d="M573.9,271.7 L574.3,273.3 L574.3,274.9 L574.2,276.6 L573.7,278.2 L573.0,279.7 L572.0,281.3 L570.8,282.8 L569.3,284.2 L567.6,285.6 L565.7,286.9 L563.6,288.1 L561.2,289.3 L558.8,290.3 L556.1,291.2 L553.4,292.1 L550.5,292.8 L547.6,293.4 L544.5,293.9 L541.5,294.2 L538.4,294.4 L535.3,294.5 L532.3,294.4 L529.3,294.1 L526.3,293.8 L523.5,293.4 L520.8,292.8 L518.2,292.1 L515.8,291.4 L513.6,290.5 L511.5,289.6 L509.7,288.5 L508.1,287.4 L506.7,286.3 L505.6,285.1 L504.7,283.8 L504.1,282.6 L503.7,281.3 L503.7,280.0 L503.8,278.8 L504.3,277.8" stroke="#fff" stroke-width="4.4" fill="none"/><path d="M574.3,284.8 L574.2,286.3 L573.7,287.8 L573.0,289.3 L572.0,290.8 L570.8,292.2 L569.3,293.6 L567.6,294.9 L565.7,296.1 L563.6,297.3 L561.2,298.3 L558.8,299.3 L556.1,300.2" stroke="#000" stroke-width="7.6" fill="none"/><path d="M573.9,283.6 L574.3,284.1 L574.3,284.8 L574.2,286.3 L573.7,287.8 L573.0,289.3 L572.0,290.8 L570.8,292.2 L569.3,293.6 L567.6,294.9 L565.7,296.1 L563.6,297.3 L561.2,298.3 L558.8,299.3 L556.1,300.2" stroke="#fff" stroke-width="4.4" fill="none"/></g><ellipse cx="518.2" cy="69.0" rx="3.2" ry="3.6" fill="#fff" stroke="#000" stroke-width="1.4"/><ellipse cx="556.1" cy="300.2" rx="3.2" ry="3.6" fill="#fff" stroke="#000" stroke-width="1.4"/>
</svg></body></html>
